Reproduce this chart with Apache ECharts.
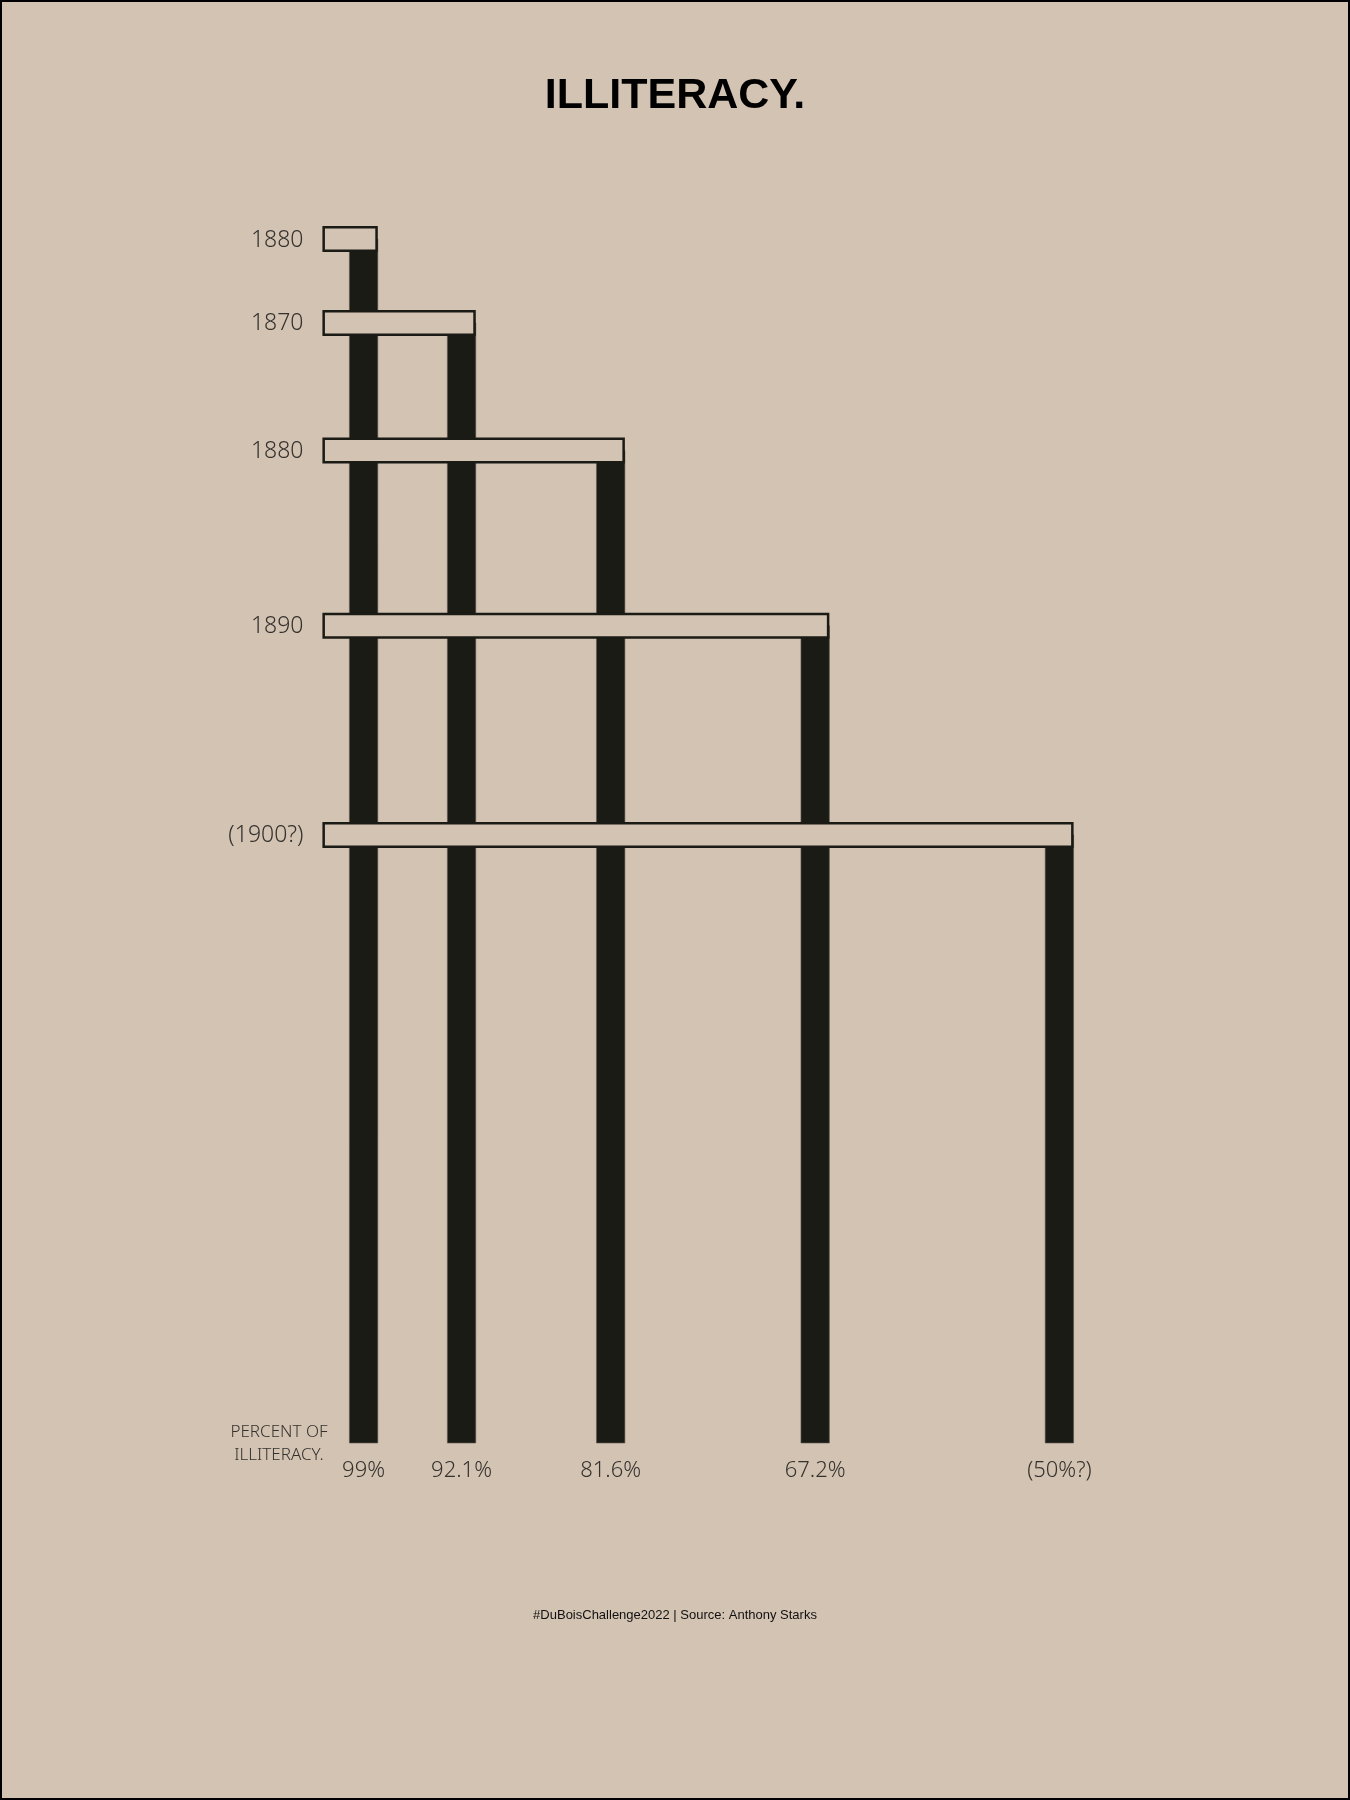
<!DOCTYPE html>
<html>
<head>
<meta charset="utf-8">
<script src="https://cdn.jsdelivr.net/npm/echarts@6/dist/echarts.min.js"></script>
<style>
html, body { margin: 0; padding: 0; background: #d3c3b3; }
#main { width: 1350px; height: 1800px; }
</style>
</head>
<body>
<div id="main"></div>
<script>
// year labels (as written on the chart) and percent of illiteracy
var years = ["1880", "1870", "1880", "1890", "(1900?)"];
var percents = [99, 92.1, 81.6, 67.2, 50];
var percentLabels = ["99%", "92.1%", "81.6%", "67.2%", "(50%?)"];

var BG = "#d3c3b3";
var INK = "#1b1b16";
var TEXT = "#35322e";
var NARROW = '"Noto Sans", "DejaVu Sans Condensed", sans-serif';
function narrow(size) {
  return "condensed 300 " + size + "px " + NARROW;
}

var myChart = echarts.init(document.getElementById("main"), null, { renderer: "canvas" });

var data = percents.map(function (p, i) { return [p, p, i]; });

var option = {
  backgroundColor: BG,
  animation: false,
  grid: { left: 321, top: 166, width: 809.4, height: 1277 },
  xAxis: { type: "value", inverse: true, min: 45, max: 102, show: false },
  yAxis: { type: "value", min: 0, max: 105, show: false },
  graphic: [
    {
      type: "rect", z: 100, silent: true,
      shape: { x: 1, y: 1, width: 1348, height: 1798 },
      style: { fill: null, stroke: "#000", lineWidth: 2 }
    },
    {
      type: "text", left: "center", top: 75,
      style: { text: "ILLITERACY.", font: 'bold 43px "Liberation Sans", Arial, sans-serif', fill: "#000" }
    },
    {
      type: "text", x: 279, y: 1444, silent: true,
      style: {
        text: "PERCENT OF\nILLITERACY.", align: "center", verticalAlign: "middle",
        font: narrow(17), lineHeight: 23, fill: TEXT
      }
    },
    {
      type: "text", left: "center", top: 1609,
      style: { text: "#DuBoisChallenge2022 | Source: Anthony Starks", font: '13px "Liberation Sans", Arial, sans-serif', fill: "#111" }
    }
  ],
  series: [
    {
      // the dark columns, drawn first so the year bars cover them
      type: "custom",
      z: 1,
      data: data,
      renderItem: function (params, api) {
        var p = api.value(0);
        var a = api.coord([p + 1, p]);
        var b = api.coord([p - 1, 0]);
        return {
          type: "rect",
          shape: { x: a[0], y: a[1], width: b[0] - a[0], height: b[1] - a[1] },
          style: { fill: INK, stroke: "#5e5850", lineWidth: 0.6 }
        };
      }
    },
    {
      // the light year bars with their labels
      type: "custom",
      z: 2,
      data: data,
      renderItem: function (params, api) {
        var p = api.value(0);
        var i = api.value(2);
        var left = api.coord([101.9, p]);
        var right = api.coord([p - 1, p]);
        var base = api.coord([p, 0]);
        return {
          type: "group",
          children: [
            {
              type: "rect",
              shape: { x: left[0] + 1.25, y: left[1] - 11.75, width: right[0] - left[0] - 2.5, height: 23.5 },
              style: { fill: BG, stroke: INK, lineWidth: 2.5 }
            },
            {
              type: "text",
              style: {
                text: years[i], x: left[0] - 19, y: left[1] + 1,
                align: "right", verticalAlign: "middle",
                font: narrow(23), fill: TEXT
              }
            },
            {
              type: "text",
              style: {
                text: percentLabels[i], x: base[0], y: base[1] + 28,
                align: "center", verticalAlign: "middle",
                font: narrow(22), fill: TEXT
              }
            }
          ]
        };
      }
    }
  ]
};

myChart.setOption(option, true);
</script>
</body>
</html>
